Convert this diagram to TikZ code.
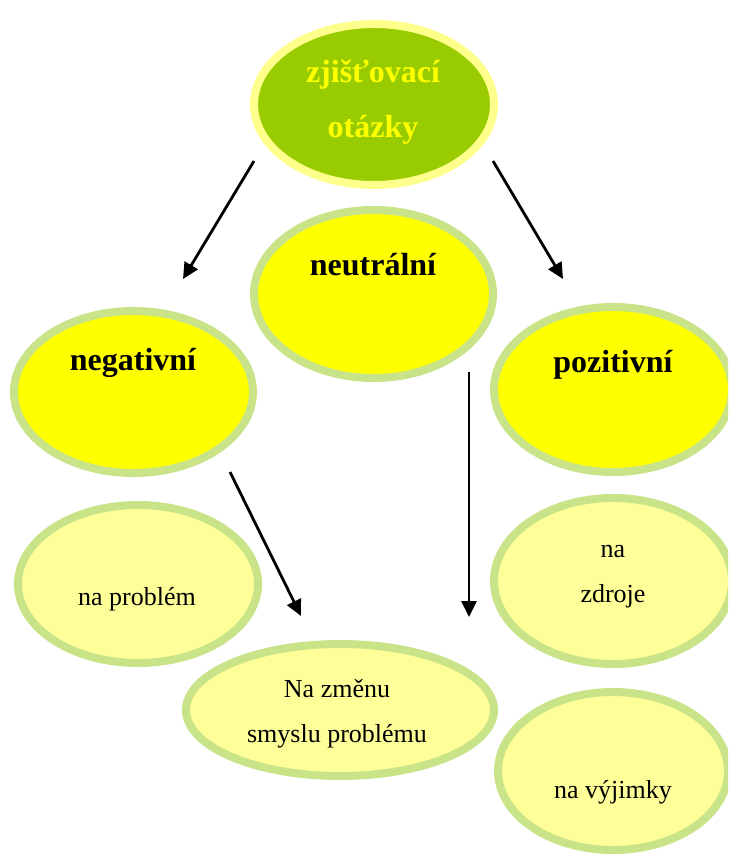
\documentclass[tikz,border=0pt]{standalone}
\usepackage{fontspec}
\setmainfont{Liberation Serif}
\usetikzlibrary{shapes.geometric,arrows.meta}
\definecolor{topfill}{HTML}{99CC00}
\definecolor{topborder}{HTML}{FFFF8C}
\definecolor{bordgreen}{HTML}{C9E388}
\definecolor{yel}{HTML}{FFFF00}
\definecolor{lightyel}{HTML}{FFFF99}
\begin{document}
\begin{tikzpicture}[x=1pt,y=-1pt,
  bub/.style={ellipse, draw=bordgreen, line width=8pt, inner sep=0pt, outer sep=0pt},
  boldlbl/.style={anchor=base, inner sep=0pt, font=\fontsize{32}{38}\selectfont\bfseries},
  plainlbl/.style={anchor=base, inner sep=0pt, font=\fontsize{26}{31}\selectfont},
  arr/.style={line width=2.8pt, -{Triangle[length=16pt,width=15pt]}}]
\useasboundingbox (0,0) rectangle (728,859);
\clip (0,0) rectangle (728,859);
% ellipses
\node[bub, draw=topborder, fill=topfill, minimum width=240pt, minimum height=161pt] (top) at (374,104.5) {};
\node[bub, fill=yel, minimum width=239pt, minimum height=168pt] (neu) at (373.5,294) {};
\node[bub, fill=yel, minimum width=239pt, minimum height=162pt] (neg) at (133.5,392) {};
\node[bub, fill=yel, minimum width=238pt, minimum height=165pt] (poz) at (613,389.5) {};
\node[bub, fill=lightyel, minimum width=240pt, minimum height=158pt] (prob) at (138,584) {};
\node[bub, fill=lightyel, minimum width=238pt, minimum height=166pt] (zdr) at (613,581) {};
\node[bub, fill=lightyel, minimum width=308pt, minimum height=132pt] (zmen) at (340,710) {};
\node[bub, fill=lightyel, minimum width=230pt, minimum height=158pt] (vyj) at (613,771) {};
% labels
\node[boldlbl, text=yel] (t1) at (373,82) {zjišťovací};
\node[boldlbl, text=yel] (t2) at (373,137) {otázky};
\node[boldlbl] (t3) at (373,275) {neutrální};
\node[boldlbl] (t4) at (133,370) {negativní};
\node[boldlbl] (t5) at (613,372) {pozitivní};
\node[plainlbl] (t6) at (137,605) {na problém};
\node[plainlbl] (t7) at (613,557) {na};
\node[plainlbl] (t8) at (613,602) {zdroje};
\node[plainlbl] (t9) at (337,697) {Na změnu};
\node[plainlbl] (t10) at (337,742) {smyslu problému};
\node[plainlbl] (t11) at (613,798) {na výjimky};
% arrows
\coordinate (a1s) at (254,161); \coordinate (a1e) at (183,279);
\coordinate (a2s) at (493,161); \coordinate (a2e) at (563,279);
\coordinate (a3s) at (230,472); \coordinate (a3e) at (301,616);
\coordinate (a4s) at (469,372); \coordinate (a4e) at (469,617);
\draw[arr] (a1s) -- (a1e);
\draw[arr] (a2s) -- (a2e);
\draw[arr] (a3s) -- (a3e);
\draw[arr] (a4s) -- (a4e);
\end{tikzpicture}
\end{document}
